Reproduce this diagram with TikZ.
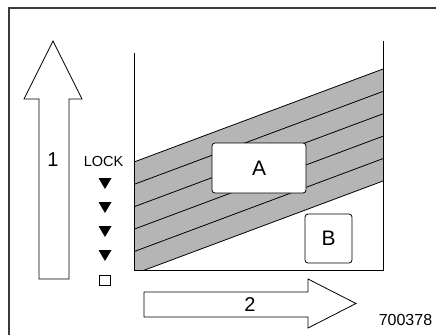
\documentclass[tikz,border=0pt]{standalone}
\usepackage{fontspec}
\setmainfont{Liberation Sans}
\usetikzlibrary{calc}
\definecolor{BandGray}{HTML}{B5B5B5}
\definecolor{FrameGray}{HTML}{3A3A3A}
\tikzset{
  BlockArrow/.style={draw=black, line width=0.8pt, fill=white, line join=miter},
  LabelBox/.style={draw=black, line width=0.8pt, fill=white, rounded corners=3pt,
    inner sep=0pt, minimum width=#1},
  BigText/.style={font=\fontsize{#1}{#1}\selectfont, inner sep=0pt}
}

\begin{document}
\begin{tikzpicture}[x=1pt, y=-1pt, line cap=butt]
    \path[use as bounding box] (0,0) rectangle (436,335);
    \def\Xl{134}
    \def\Xr{383}
    \def\Yb{270}
    \def\Dy{22.4}
    % frame, cut off at right and bottom
    \draw[FrameGray, line width=1.1pt] (9,335) |- (436,8);

    % band of strips in the chart
    \begin{scope}
        \clip (\Xl,53) rectangle (\Xr,\Yb);
        \fill[BandGray] (\Xl,162) -- (\Xr,69) -- (\Xr,69+5*\Dy) -- (\Xl,162+5*\Dy) -- cycle;
        \foreach \k in {0,...,5}
            \draw[line width=0.8pt] (\Xl,162+\k*\Dy) -- (\Xr,69+\k*\Dy);
    \end{scope}
    \draw[line width=0.9pt] (\Xl,53) |- (\Xr,\Yb) -- (\Xr,41);

    \node[LabelBox=94pt, minimum height=50pt, BigText=21] (boxA) at (259,168) {A};
    \node[LabelBox=47pt, minimum height=49pt, BigText=21] (boxB) at (328.5,238.5) {B};

    % arrows 1 and 2
    \draw[BlockArrow] (39,279) -- (39,99) -- (24,99) -- (53,41) -- (82,99) -- (69,99) -- (69,279) -- cycle;
    \draw[BlockArrow] (144,292) -- (308,292) -- (308,279) -- (356,303.5) -- (308,328) -- (308,317) -- (144,317) -- cycle;
    \node[BigText=20] (one) at (53,160) {1};
    \node[BigText=20] (two) at (250,305) {2};

    % lock marks
    \node[BigText=14.5] (lock) at (103.5,162) {LOCK};
    \foreach \y in {178,202,226,250}
        \fill (98.5,\y) -- (111.5,\y) -- (105,\y+11) -- cycle;
    \draw[line width=0.7pt] (99.5,275) rectangle (110,285);

    \node[BigText=16] (code) at (405.5,320) {700378};
\end{tikzpicture}
\end{document}
